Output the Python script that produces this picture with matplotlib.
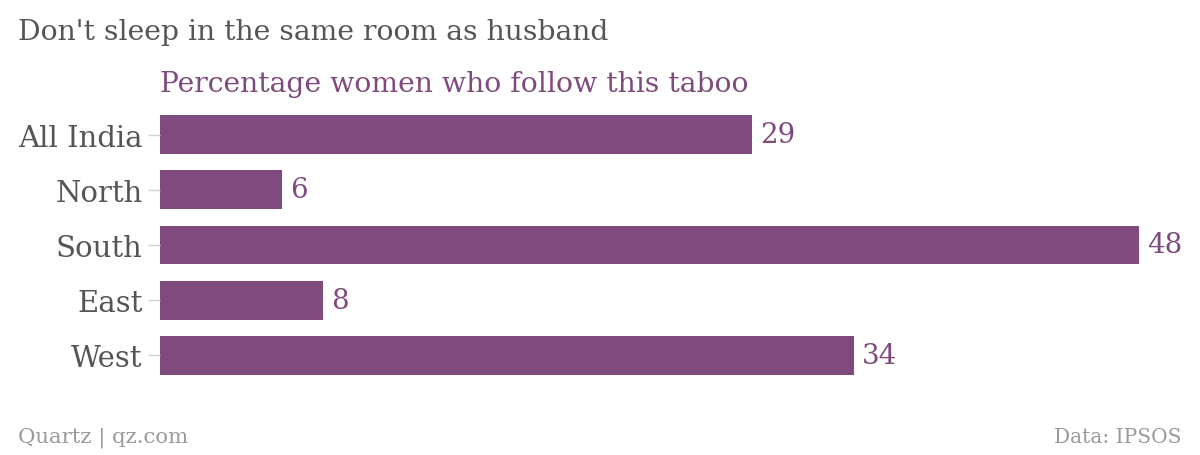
import matplotlib
matplotlib.use("Agg")
import matplotlib.pyplot as plt

regions = ["All India", "North", "South", "East", "West"]
values = [29, 6, 48, 8, 34]

title = "Don't sleep in the same room as husband"
subtitle = "Percentage women who follow this taboo"
source_left = "Quartz | qz.com"
source_right = "Data: IPSOS"

bar_color = "#7f4b7e"
plt.rcParams['font.family'] = ['DejaVu Serif']

W, H = 1200, 456
fig = plt.figure(figsize=(W / 100, H / 100), dpi=100)
left_px, right_px = 160, 1180
top_px, bottom_px = 108, 384
ax = fig.add_axes([left_px / W, 1 - bottom_px / H, (right_px - left_px) / W, (bottom_px - top_px) / H])

pos = list(range(len(regions)))
ax.barh(pos, values, height=0.7, color=bar_color)
ax.set_xlim(0, (right_px - left_px) / 20.4)
ax.set_ylim(len(regions) - 0.5, -0.5)
ax.set_yticks(pos)
ax.set_yticklabels(regions, fontsize=21, color="#555555")
ax.tick_params(axis="y", length=9, width=1, color="#d0d0d0", pad=3.5)
ax.set_xticks([])
for s in ax.spines.values():
    s.set_visible(False)

for p, v in zip(pos, values):
    ax.text(v + 0.4, p, str(v), va="center", ha="left", fontsize=20, color=bar_color)

fig.text(18 / W, 1 - 33 / H, title, fontsize=20.3, color="#555555", va="center", ha="left")
fig.text(160 / W, 1 - 84 / H, subtitle, fontsize=20.3, color=bar_color, va="center", ha="left")
fig.text(18 / W, 1 - 438 / H, source_left, fontsize=15.3, color="#999999", va="center", ha="left")
fig.text(1182 / W, 1 - 438 / H, source_right, fontsize=14.5, color="#999999", va="center", ha="right")

fig.savefig("out.png", dpi=100, facecolor="white")
